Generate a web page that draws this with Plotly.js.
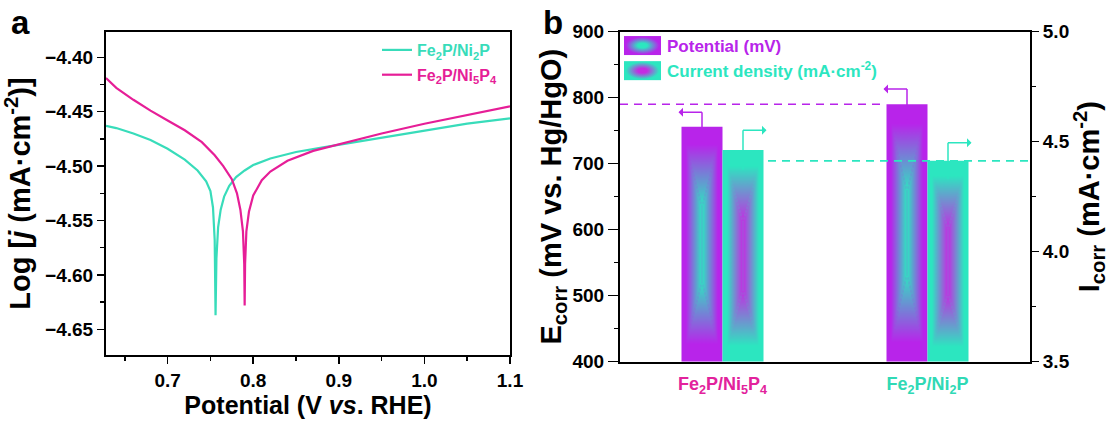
<!DOCTYPE html>
<html>
<head>
<meta charset="utf-8">
<script src="https://cdn.plot.ly/plotly-3.0.1.min.js"></script>
<style>
  html, body { margin: 0; padding: 0; background: #ffffff; }
  #chart { width: 1109px; height: 425px; }
</style>
</head>
<body>
<div id="chart"></div>
<script>
// ---------------- Panel a: Tafel curves ----------------
const tafelX_Ni2P = [0.628, 0.64, 0.66, 0.68, 0.70, 0.72, 0.735, 0.745, 0.75, 0.753, 0.755, 0.756, 0.757, 0.759, 0.762, 0.766, 0.772, 0.78, 0.79, 0.80, 0.82, 0.85, 0.88, 0.91, 0.95, 1.0, 1.05, 1.1];
const tafelY_Ni2P = [-4.463, -4.465, -4.470, -4.476, -4.484, -4.494, -4.504, -4.514, -4.523, -4.538, -4.568, -4.637, -4.585, -4.556, -4.540, -4.528, -4.518, -4.510, -4.504, -4.499, -4.493, -4.487, -4.483, -4.479, -4.474, -4.467, -4.461, -4.456];

const tafelX_Ni5P4 = [0.628, 0.64, 0.66, 0.68, 0.70, 0.72, 0.74, 0.755, 0.765, 0.775, 0.781, 0.785, 0.788, 0.7895, 0.790, 0.7905, 0.792, 0.795, 0.80, 0.81, 0.82, 0.84, 0.87, 0.90, 0.95, 1.0, 1.05, 1.1];
const tafelY_Ni5P4 = [-4.419, -4.428, -4.439, -4.449, -4.458, -4.467, -4.478, -4.490, -4.500, -4.512, -4.525, -4.540, -4.560, -4.590, -4.628, -4.590, -4.560, -4.542, -4.527, -4.513, -4.505, -4.495, -4.486, -4.480, -4.470, -4.461, -4.453, -4.445];

const xTickValsA = [0.7, 0.8, 0.9, 1.0, 1.1];
const xTickTextA = ['0.7', '0.8', '0.9', '1.0', '1.1'];
const yTickValsA = [-4.65, -4.60, -4.55, -4.50, -4.45, -4.40];
const yTickTextA = ['\u22124.65', '\u22124.60', '\u22124.55', '\u22124.50', '\u22124.45', '\u22124.40'];

// ---------------- Panel b: corrosion bars ----------------
const samples = ['Fe2P/Ni5P4', 'Fe2P/Ni2P'];
const sampleLabels = ['Fe<sub>2</sub>P/Ni<sub>5</sub>P<sub>4</sub>', 'Fe<sub>2</sub>P/Ni<sub>2</sub>P'];
const ecorr = [756, 790];        // mV vs. Hg/HgO
const ecorrErr = [22, 23];
const icorr = [4.462, 4.413];    // mA cm-2
const icorrErr = [0.09, 0.082];
const y3TickVals = [3.5, 4.0, 4.5, 5.0];
const y3TickText = ['3.5', '4.0', '4.5', '5.0'];

// ---------------- styling ----------------
const TEAL_L = '#38dcba', PINK_L = '#e61e97';
const PURPLE = '#b824ea', TEAL_B = '#2ce6c0', CORE_MAG = '#c42be2';
const LABEL_PINK = '#e2229c', LABEL_TEAL = '#30d9b5';
const FONT = 'Liberation Sans';
const W = 1109, H = 425;
const A = {l: 106, r: 510, t: 32, b: 355};
const B = {l: 620, r: 1030, t: 31.7, b: 361.7};
const barW = 0.2;
const arrowLenPx = 25;
const catPx = (B.r - B.l) / 2;

const minorStyle = {ticks: 'outside', ticklen: 4, tickwidth: 1.5, tickcolor: 'black'};
const axisBase = {
  showline: true, linecolor: 'black', linewidth: 2, mirror: true,
  ticks: 'outside', ticklen: 7, tickwidth: 1.5, tickcolor: 'black',
  showgrid: false, zeroline: false,
  tickfont: {family: FONT, size: 19, color: 'black', weight: 'bold'},
};
const xTitleFont = {family: FONT, size: 25, color: 'black', weight: 'bold'};
const yTitleFont = {family: FONT, size: 29, color: 'black', weight: 'bold'};

const traces = [
  {x: tafelX_Ni2P, y: tafelY_Ni2P, type: 'scatter', mode: 'lines', xaxis: 'x', yaxis: 'y',
   name: '<span style="color:' + TEAL_L + '">Fe<sub>2</sub>P/Ni<sub>2</sub>P</span>',
   line: {color: TEAL_L, width: 2.2}, legend: 'legend', legendgroup: 'a1'},
  {x: tafelX_Ni5P4, y: tafelY_Ni5P4, type: 'scatter', mode: 'lines', xaxis: 'x', yaxis: 'y',
   name: '<span style="color:' + PINK_L + '">Fe<sub>2</sub>P/Ni<sub>5</sub>P<sub>4</sub></span>',
   line: {color: PINK_L, width: 2.2}, legend: 'legend', legendgroup: 'a2'},
  {x: samples, y: ecorr.map(v => v - 400), base: 400, type: 'bar', xaxis: 'x2', yaxis: 'y2',
   width: barW, offset: -barW,
   name: '<span style="color:' + PURPLE + '">Potential (mV)</span>',
   marker: {color: PURPLE, line: {width: 0}},
   error_y: {type: 'data', array: ecorrErr, color: PURPLE, thickness: 1.5, width: 0},
   legend: 'legend2', legendgroup: 'b1'},
  {x: samples, y: icorr.map(v => v - 3.5), base: 3.5, type: 'bar', xaxis: 'x2', yaxis: 'y3',
   width: barW, offset: 0,
   name: '<span style="color:' + TEAL_B + '">Current density (mA·cm<sup>-2</sup>)</span>',
   marker: {color: TEAL_B, line: {width: 0}},
   error_y: {type: 'data', array: icorrErr, color: TEAL_B, thickness: 1.5, width: 0},
   legend: 'legend2', legendgroup: 'b2'}
];

function arrowAnn(i, isPot) {
  const xc = i + (isPot ? -barW / 2 : barW / 2);
  const y = isPot ? ecorr[i] + ecorrErr[i] : icorr[i] + icorrErr[i];
  return {xref: 'x2', yref: isPot ? 'y2' : 'y3', x: xc, y: y, text: '', showarrow: true,
          ax: isPot ? -arrowLenPx : arrowLenPx, ay: 0, arrowside: 'start',
          arrowhead: 2, arrowsize: 1.1, arrowwidth: 1.5,
          arrowcolor: isPot ? PURPLE : TEAL_B};
}

const annotations = [
  {xref: 'paper', yref: 'paper', x: 9 / W, y: 1 - 2 / H, xanchor: 'left', yanchor: 'top',
   text: 'a', showarrow: false, font: {family: FONT, size: 33, color: 'black'}},
  {xref: 'paper', yref: 'paper', x: 541 / W, y: 1 - 2 / H, xanchor: 'left', yanchor: 'top',
   text: 'b', showarrow: false, font: {family: FONT, size: 33, color: 'black'}},
  arrowAnn(0, true), arrowAnn(0, false), arrowAnn(1, true), arrowAnn(1, false)
];

const shapes = [
  {type: 'line', xref: 'x2', yref: 'y2', x0: -0.5, x1: 1 - barW / 2 - arrowLenPx / catPx,
   y0: ecorr[1], y1: ecorr[1], line: {color: PURPLE, width: 1.6, dash: '8px,6px'}},
  {type: 'line', xref: 'x2', yref: 'y3', x0: barW / 2 + arrowLenPx / catPx, x1: 1.5,
   y0: icorr[1], y1: icorr[1], line: {color: TEAL_B, width: 1.6, dash: '8px,6px'}}
];

const layout = {
  width: W, height: H, margin: {l: 0, r: 0, t: 0, b: 0},
  paper_bgcolor: '#ffffff', plot_bgcolor: 'rgba(0,0,0,0)',
  font: {family: FONT, size: 16, color: 'black', weight: 'bold'},
  showlegend: true,
  xaxis: Object.assign({}, axisBase, {
    domain: [A.l / W, A.r / W], anchor: 'y', range: [0.628, 1.1],
    tickmode: 'array', tickvals: xTickValsA, ticktext: xTickTextA,
    minor: Object.assign({dtick: 0.05, tick0: 0.65}, minorStyle),
    title: {text: 'Potential (V <i>vs</i>. RHE)', font: xTitleFont, standoff: 6}
  }),
  yaxis: Object.assign({}, axisBase, {
    domain: [1 - A.b / H, 1 - A.t / H], anchor: 'x', range: [-4.6736, -4.3767],
    tickmode: 'array', tickvals: yTickValsA, ticktext: yTickTextA,
    minor: Object.assign({dtick: 0.025, tick0: -4.65}, minorStyle),
    title: {text: 'Log [<i>j</i> (mA·cm<sup>-2</sup>)]', font: yTitleFont, standoff: 7}
  }),
  xaxis2: Object.assign({}, axisBase, {
    domain: [B.l / W, B.r / W], anchor: 'y2', type: 'category', range: [-0.5, 1.5],
    ticks: '', tickmode: 'array', tickvals: samples,
    ticktext: ['<span style="color:' + LABEL_PINK + '">' + sampleLabels[0] + '</span>',
               '<span style="color:' + LABEL_TEAL + '">' + sampleLabels[1] + '</span>'],
    tickfont: {family: FONT, size: 18, color: 'black', weight: 'bold'},
    ticklabelstandoff: 5
  }),
  yaxis2: Object.assign({}, axisBase, {
    domain: [1 - B.b / H, 1 - B.t / H], anchor: 'x2', range: [400, 900], mirror: false,
    dtick: 100, tick0: 400, ticklen: 10,
    minor: Object.assign({dtick: 50, tick0: 400}, minorStyle),
    title: {text: 'E<sub>corr</sub> (mV vs. Hg/HgO)', font: yTitleFont, standoff: 2}
  }),
  yaxis3: Object.assign({}, axisBase, {
    overlaying: 'y2', side: 'right', anchor: 'x2', range: [3.5, 5.0], mirror: false,
    tickmode: 'array', tickvals: y3TickVals, ticktext: y3TickText,
    minor: Object.assign({dtick: 0.25, tick0: 3.5}, minorStyle),
    title: {text: 'I<sub>corr</sub> (mA·cm<sup>-2</sup>)', font: yTitleFont, standoff: 3}
  }),
  legend: {x: 377 / W, y: 1 - 33 / H, xanchor: 'left', yanchor: 'top', bgcolor: 'rgba(0,0,0,0)',
           font: {family: FONT, size: 16, color: 'black', weight: 'bold'},
           traceorder: 'grouped', tracegroupgap: 1, itemwidth: 30},
  legend2: {x: 617 / W, y: 1 - 28 / H, xanchor: 'left', yanchor: 'top', bgcolor: 'rgba(0,0,0,0)',
            font: {family: FONT, size: 17, color: 'black', weight: 'bold'},
            traceorder: 'grouped', tracegroupgap: 0, itemwidth: 40},
  annotations: annotations,
  shapes: shapes
};

function gradientDefs(id, edge, core, a) {
  const g = (gid, x1, y1, x2, y2) =>
    '<linearGradient id="' + gid + '" gradientUnits="userSpaceOnUse" x1="' + x1 + '" y1="' + y1 +
    '" x2="' + x2 + '" y2="' + y2 + '"><stop offset="0" stop-color="' + edge + '"/>' +
    '<stop offset="0.22" stop-color="' + edge + '"/><stop offset="1" stop-color="' + core + '"/></linearGradient>';
  const b = 1 - a;
  return g(id + 'T', 0, 0, 0, a) + g(id + 'B', 0, 1, 0, b) + g(id + 'L', 0, 0, 0.5, 0) + g(id + 'R', 1, 0, 0.5, 0) +
    '<pattern id="' + id + '" patternUnits="objectBoundingBox" patternContentUnits="objectBoundingBox" width="1" height="1">' +
    '<rect x="0" y="0" width="1" height="1" fill="' + edge + '"/>' +
    '<polygon points="0,0 1,0 0.5,' + a + '" fill="url(#' + id + 'T)"/>' +
    '<polygon points="0,1 1,1 0.5,' + b + '" fill="url(#' + id + 'B)"/>' +
    '<polygon points="0,0 0.5,' + a + ' 0.5,' + b + ' 0,1" fill="url(#' + id + 'L)"/>' +
    '<polygon points="1,0 1,1 0.5,' + b + ' 0.5,' + a + '" fill="url(#' + id + 'R)"/>' +
    '</pattern>';
}
function radialDefs(id, edge, core) {
  return '<radialGradient id="' + id + '" cx="0.5" cy="0.5" r="0.5">' +
    '<stop offset="0" stop-color="' + core + '"/><stop offset="0.25" stop-color="' + core + '"/>' +
    '<stop offset="0.9" stop-color="' + edge + '"/></radialGradient>';
}

function applyGradients(gd) {
  const NS = 'http://www.w3.org/2000/svg';
  const svgs = Array.from(gd.querySelectorAll('svg.main-svg'));
  svgs.forEach((svg, s) => {
    const sfx = '_' + s;
    const str = gradientDefs('gPot' + sfx, PURPLE, TEAL_B, 0.34) + gradientDefs('gCur' + sfx, TEAL_B, CORE_MAG, 0.34) +
                radialDefs('gPotL' + sfx, PURPLE, TEAL_B) + radialDefs('gCurL' + sfx, TEAL_B, CORE_MAG);
    let defs = svg.querySelector(':scope > defs');
    if (!defs) { defs = document.createElementNS(NS, 'defs'); svg.insertBefore(defs, svg.firstChild); }
    const doc = new DOMParser().parseFromString('<svg xmlns="' + NS + '">' + str + '</svg>', 'image/svg+xml');
    Array.from(doc.documentElement.childNodes).forEach(n => defs.appendChild(document.importNode(n, true)));
  });
  const sfxOf = el => '_' + Math.max(0, svgs.indexOf(el.closest('svg.main-svg')));

  const ids = ['gPot', 'gCur'];
  gd.querySelectorAll('.barlayer .trace').forEach((t, k) => {
    t.querySelectorAll('.point path').forEach(p => {
      p.style.fill = 'url(#' + ids[k] + sfxOf(p) + ') ' + (k === 0 ? PURPLE : TEAL_B);
    });
  });

  // legend2 swatches: hide default symbols, add wide gradient swatches inside each legend item
  const leg2 = gd.querySelector('g.legend2');
  if (!leg2) return;
  const lids = ['gPotL', 'gCurL'];
  const fb = [PURPLE, TEAL_B];
  leg2.querySelectorAll('g.traces').forEach((it, k) => {
    const lp = it.querySelector('.legendpoints');
    if (lp) Array.from(lp.children).forEach(c => { c.style.display = 'none'; });
    const t = it.querySelector('text.legendtext');
    let tx = t ? parseFloat(t.getAttribute('x')) : 50;
    if (!isFinite(tx)) tx = 50;
    const r = document.createElementNS(NS, 'rect');
    r.setAttribute('x', String(tx - 6 - 37)); r.setAttribute('y', '-9.5');
    r.setAttribute('width', '37'); r.setAttribute('height', '19');
    r.setAttribute('fill', 'url(#' + lids[k] + sfxOf(it) + ') ' + fb[k]);
    it.insertBefore(r, it.firstChild);
  });
}

const gd = document.getElementById('chart');
Plotly.newPlot(gd, traces, layout, {displayModeBar: false, staticPlot: true}).then(() => applyGradients(gd));
</script>
</body>
</html>
